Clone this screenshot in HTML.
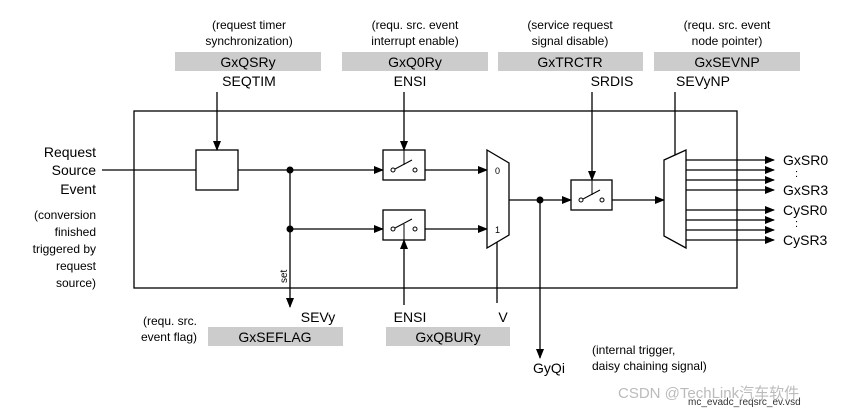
<!DOCTYPE html>
<html><head><style>
body{margin:0;background:#fff;}
svg{display:block;font-family:"Liberation Sans",Arial,sans-serif;}
</style></head><body>
<svg width="863" height="411" viewBox="0 0 863 411" xmlns="http://www.w3.org/2000/svg">
<defs>
<marker id="a" markerWidth="10" markerHeight="8" refX="9" refY="4" orient="auto" markerUnits="userSpaceOnUse"><path d="M0,0 L10,4 L0,8 z" fill="#000"/></marker>
</defs>
<g fill="#ccc">
<rect x="175" y="52" width="146" height="19"/>
<rect x="342" y="52" width="146" height="19"/>
<rect x="498" y="52" width="145" height="19"/>
<rect x="654" y="52" width="146" height="19"/>
<rect x="208" y="327" width="135" height="19"/>
<rect x="386" y="327" width="124" height="19"/>
</g>
<g font-size="12" text-anchor="middle" fill="#000">
<text x="249" y="29">(request timer</text><text x="249" y="45">synchronization)</text>
<text x="415" y="29">(requ. src. event</text><text x="415" y="45">interrupt enable)</text>
<text x="570" y="29">(service request</text><text x="570" y="45">signal disable)</text>
<text x="727" y="29">(requ. src. event</text><text x="727" y="45">node pointer)</text>
</g>
<g font-size="14" text-anchor="middle">
<text x="248" y="67">GxQSRy</text><text x="415" y="67">GxQ0Ry</text>
<text x="570" y="67">GxTRCTR</text><text x="727" y="67">GxSEVNP</text>
<text x="275" y="342">GxSEFLAG</text><text x="448" y="342">GxQBURy</text>
<text x="249" y="86">SEQTIM</text><text x="410" y="86">ENSI</text>
<text x="612" y="86">SRDIS</text><text x="703" y="86">SEVyNP</text>
<text x="318" y="322">SEVy</text><text x="410" y="322">ENSI</text><text x="503" y="322">V</text>
<text x="549" y="373">GyQi</text>
</g>
<g font-size="14" text-anchor="end">
<text x="96" y="157">Request</text><text x="96" y="175">Source</text><text x="96" y="194">Event</text>
</g>
<g font-size="12" text-anchor="end">
<text x="96" y="219">(conversion</text><text x="96" y="236">finished</text><text x="96" y="253">triggered by</text>
<text x="96" y="270">request</text><text x="96" y="287">source)</text>
<text x="197" y="325">(requ. src.</text><text x="197" y="341">event flag)</text>
</g>
<g font-size="12"><text x="592" y="354">(internal trigger,</text><text x="592" y="370">daisy chaining signal)</text></g>
<g font-size="14"><text x="783" y="165">GxSR0</text><text x="783" y="195">GxSR3</text><text x="783" y="215">CySR0</text><text x="783" y="245">CySR3</text>
<text x="795" y="177" font-size="11">:</text><text x="795" y="227" font-size="11">:</text></g>
<text x="287" y="283" font-size="10" transform="rotate(-90 287 283)">set</text>
<g stroke="#000" stroke-width="1.3" fill="none">
<rect x="134" y="111" width="603" height="177"/>
<rect x="196" y="150" width="42" height="40" fill="#fff"/>
<line x1="102" y1="170" x2="196" y2="170"/>
<line x1="217" y1="92" x2="217" y2="150" marker-end="url(#a)"/>
<line x1="238" y1="170" x2="383" y2="170" marker-end="url(#a)"/>
<line x1="290" y1="170" x2="290" y2="307" marker-end="url(#a)"/>
<line x1="290" y1="229" x2="383" y2="229" marker-end="url(#a)"/>
<line x1="404" y1="92" x2="404" y2="150" marker-end="url(#a)"/>
<line x1="404" y1="305" x2="404" y2="240" marker-end="url(#a)"/>
<rect x="383" y="150" width="42" height="30" fill="#fff"/>
<rect x="383" y="210" width="42" height="30" fill="#fff"/>
<rect x="571" y="180" width="41" height="30" fill="#fff"/>
<line x1="425" y1="170" x2="487" y2="170" marker-end="url(#a)"/>
<line x1="425" y1="229" x2="487" y2="229" marker-end="url(#a)"/>
<path d="M487,150 L509,163 L509,235 L487,248 Z" fill="#fff"/>
<line x1="497" y1="242" x2="497" y2="303"/>
<line x1="509" y1="200" x2="571" y2="200" marker-end="url(#a)"/>
<line x1="540" y1="200" x2="540" y2="358" marker-end="url(#a)"/>
<line x1="592" y1="92" x2="592" y2="180" marker-end="url(#a)"/>
<line x1="612" y1="200" x2="664" y2="200" marker-end="url(#a)"/>
<line x1="675" y1="92" x2="675" y2="156"/>
<path d="M664,160 L686,150 L686,248 L664,236 Z" fill="#fff"/>
<line x1="686" y1="160" x2="774" y2="160" marker-end="url(#a)"/>
<line x1="686" y1="170" x2="774" y2="170" marker-end="url(#a)"/>
<line x1="686" y1="180" x2="774" y2="180" marker-end="url(#a)"/>
<line x1="686" y1="190" x2="774" y2="190" marker-end="url(#a)"/>
<line x1="686" y1="210" x2="774" y2="210" marker-end="url(#a)"/>
<line x1="686" y1="220" x2="774" y2="220" marker-end="url(#a)"/>
<line x1="686" y1="230" x2="774" y2="230" marker-end="url(#a)"/>
<line x1="686" y1="240" x2="774" y2="240" marker-end="url(#a)"/>
</g>
<g stroke="#000" stroke-width="1" fill="#fff">
<circle cx="393" cy="170" r="2"/><circle cx="415" cy="170" r="2"/><line x1="395" y1="169" x2="412" y2="160"/>
<circle cx="393" cy="229" r="2"/><circle cx="415" cy="229" r="2"/><line x1="395" y1="228" x2="412" y2="219"/>
<circle cx="581" cy="200" r="2"/><circle cx="602" cy="200" r="2"/><line x1="583" y1="199" x2="600" y2="190"/>
<line x1="404" y1="150" x2="404" y2="165"/><line x1="404" y1="240" x2="404" y2="224"/><line x1="592" y1="180" x2="592" y2="195"/>
</g>
<g fill="#000"><circle cx="290" cy="170" r="3.5"/><circle cx="290" cy="229" r="3.5"/><circle cx="540" cy="200" r="3.5"/></g>
<text x="495" y="174" font-size="9">0</text><text x="495" y="233" font-size="9">1</text>
<text x="618" y="398" font-size="15" fill="#bbb">CSDN @TechLink汽车软件</text>
<text x="688" y="405" font-size="10" fill="#333">mc_evadc_reqsrc_ev.vsd</text>
</svg>
</body></html>
